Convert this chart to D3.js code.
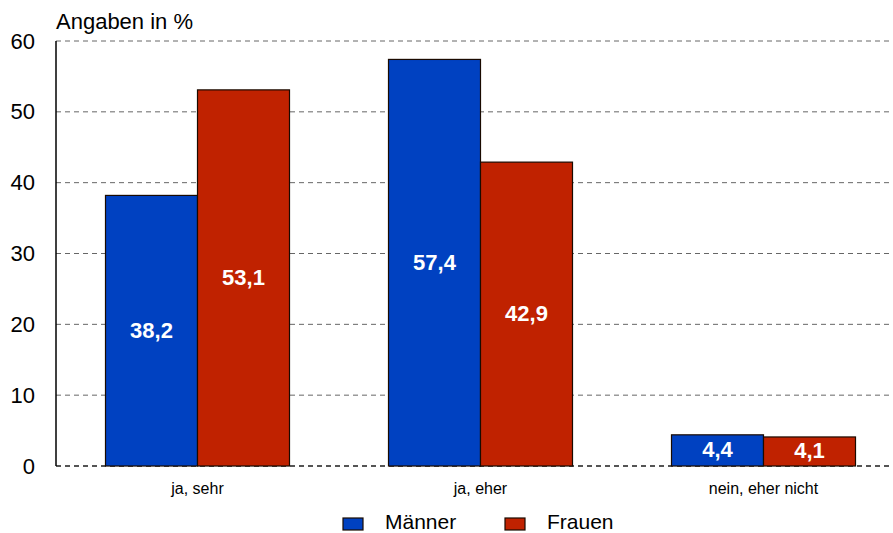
<!DOCTYPE html>
<html><head><meta charset="utf-8">
<script src="https://cdn.jsdelivr.net/npm/d3@7"></script>
<style>body{margin:0;background:#fff}svg{display:block;font-family:Arial,"Liberation Sans",sans-serif}</style>
</head><body><svg id="c" width="893" height="533"></svg>
<script>
const categories = ["ja, sehr", "ja, eher", "nein, eher nicht"];
const seriesNames = ["Männer", "Frauen"];
const maenner = [38.2, 57.4, 4.4];
const frauen = [53.1, 42.9, 4.1];
const yTicks = [0, 10, 20, 30, 40, 50, 60];
const colors = ["#0041C1", "#C02200"];

(function () {
const svg = d3.select("#c");
const mL = 56, mR = 905, mT = 41, mB = 466;
const x = d3.scaleBand().domain(categories).range([mL, mR]).padding(0);
const xs = d3.scaleBand().domain(seriesNames).range([0, x.bandwidth()]).paddingInner(0).paddingOuter(0.538);
const y = d3.scaleLinear().domain([0, 60]).range([mB, mT]);

// grid
svg.append("g").selectAll("line").data(yTicks).join("line")
  .attr("x1", mL).attr("x2", 893).attr("y1", d => y(d)).attr("y2", d => y(d))
  .attr("stroke", d => d === 0 ? "#555" : "#666").attr("stroke-width", d => d === 0 ? 2 : 1)
  .attr("stroke-dasharray", "5,4");

// y axis labels
const yAxis = d3.axisLeft(y).tickValues(yTicks).tickSize(0).tickPadding(21);
const ya = svg.append("g").attr("transform", `translate(${mL},0)`).call(yAxis);
ya.select(".domain").remove();
ya.selectAll("text").attr("font-size", 22).attr("fill", "#000").attr("font-family", "Arial, 'Liberation Sans', sans-serif");
svg.append("line").attr("x1", mL).attr("x2", mL).attr("y1", mT).attr("y2", mB).attr("stroke", "#000").attr("stroke-width", 1.5);

// bars
const data = categories.map((c, i) => ({ c, vals: [maenner[i], frauen[i]] }));
const groups = svg.append("g").selectAll("g").data(data).join("g")
  .attr("transform", d => `translate(${x(d.c)},0)`);
groups.selectAll("rect").data(d => d.vals.map((v, j) => ({ v, s: seriesNames[j], j }))).join("rect")
  .attr("x", d => xs(d.s)).attr("width", xs.bandwidth())
  .attr("y", d => y(d.v)).attr("height", d => y(0) - y(d.v))
  .attr("fill", d => colors[d.j]).attr("stroke", "#1a0a00").attr("stroke-width", 1.2);
groups.selectAll("text").data(d => d.vals.map((v, j) => ({ v, s: seriesNames[j], j }))).join("text")
  .attr("x", d => xs(d.s) + xs.bandwidth() / 2)
  .attr("y", d => (y(d.v) + y(0)) / 2 + 1)
  .attr("text-anchor", "middle").attr("dominant-baseline", "middle")
  .attr("fill", "#fff").attr("font-weight", "bold").attr("font-size", 22)
  .text(d => d.v.toFixed(1).replace(".", ","));

// x labels
svg.append("g").selectAll("text").data(categories).join("text")
  .attr("x", d => x(d) + x.bandwidth() / 2).attr("y", 494)
  .attr("text-anchor", "middle").attr("font-size", 16).attr("fill", "#000").text(d => d);

// title
svg.append("text").attr("x", 56).attr("y", 29).attr("font-size", 22).attr("fill", "#000").text("Angaben in %");

// legend
const lg = svg.append("g").selectAll("g").data(seriesNames).join("g")
  .attr("transform", (d, i) => `translate(${343 + i * 162},0)`);
lg.append("rect").attr("x", 0).attr("y", 518).attr("width", 20).attr("height", 12)
  .attr("fill", (d, i) => colors[i]).attr("stroke", "#1a0a00").attr("stroke-width", 1.2);
lg.append("text").attr("x", 42).attr("y", 528.5).attr("font-size", 21).attr("fill", "#000").text(d => d);
})();
</script></body></html>
